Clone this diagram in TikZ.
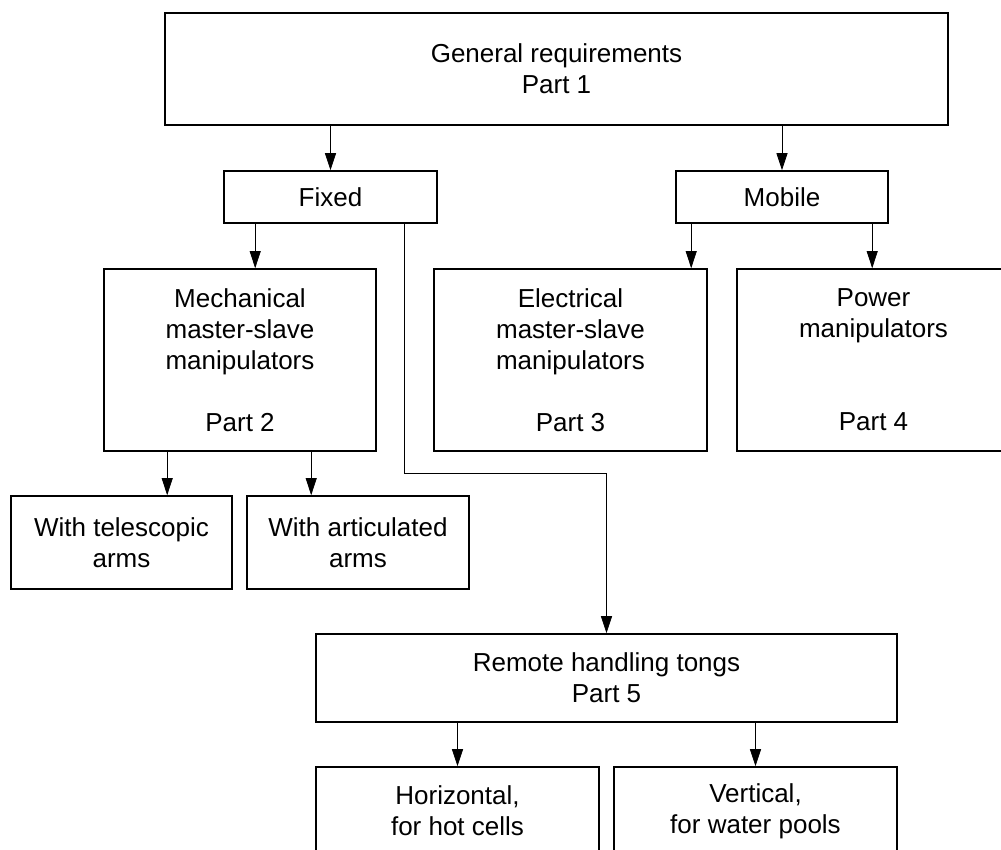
\documentclass[tikz,border=0pt]{standalone}
\usepackage{fontspec}
\setmainfont{Liberation Sans}
\usetikzlibrary{arrows.meta}
\begin{document}
\begin{tikzpicture}[x=1pt,y=-1pt,
  box/.style={draw, line width=1.6pt, inner sep=0pt, align=center,
    font=\fontsize{26}{31}\selectfont},
  arr/.style={line width=0.8pt, -{Triangle[length=17pt,width=11pt]}}]
\useasboundingbox (0,0) rectangle (1001,850);
\clip (0,0) rectangle (1001,850);
\fill[white] (0,0) rectangle (1001,850);
\node[box, minimum width=783pt, minimum height=112pt] (top) at (556.5,69) {General requirements\\Part 1};
\node[box, minimum width=213pt, minimum height=52pt] (fixed) at (330.5,197) {Fixed};
\node[box, minimum width=212pt, minimum height=52pt] (mobile) at (782,197) {Mobile};
\node[box, minimum width=272pt, minimum height=182pt] (mech) at (240,360) {Mechanical\\master-slave\\manipulators\\[31pt]Part 2};
\node[box, minimum width=273pt, minimum height=182pt] (elec) at (570.5,360) {Electrical\\master-slave\\manipulators\\[31pt]Part 3};
\node[box, minimum width=273pt, minimum height=182pt] (power) at (873.5,360) {Power\\manipulators\\[62pt]Part 4};
\node[box, minimum width=221pt, minimum height=93pt] (tele) at (121.5,542.5) {With telescopic\\arms};
\node[box, minimum width=222pt, minimum height=93pt] (artic) at (358,542.5) {With articulated\\arms};
\node[box, minimum width=581pt, minimum height=88pt] (remote) at (606.5,678) {Remote handling tongs\\Part 5};
\node[box, minimum width=283pt, minimum height=88pt] (horiz) at (457.5,811) {Horizontal,\\for hot cells};
\node[box, minimum width=283pt, minimum height=88pt] (vert) at (755.5,811) {Vertical,\\for water pools};
\draw[arr] (top.south -| fixed.north) -- (fixed.north);
\draw[arr] (top.south -| mobile.north) -- (mobile.north);
\draw[arr] ([xshift=32pt]fixed.south west) -- ([xshift=32pt]fixed.south west |- mech.north);
\draw[arr] ([xshift=181pt]fixed.south west) |- (remote.north |- 0,473) -- (remote.north);
\draw[arr] ([xshift=16pt]mobile.south west) -- ([xshift=16pt]mobile.south west |- elec.north);
\draw[arr] ([xshift=197pt]mobile.south west) -- ([xshift=197pt]mobile.south west |- power.north);
\draw[arr] ([xshift=64pt]mech.south west) -- ([xshift=64pt]mech.south west |- tele.north);
\draw[arr] ([xshift=208pt]mech.south west) -- ([xshift=208pt]mech.south west |- artic.north);
\draw[arr] (remote.south -| horiz.north) -- (horiz.north);
\draw[arr] (remote.south -| vert.north) -- (vert.north);
\end{tikzpicture}
\end{document}
